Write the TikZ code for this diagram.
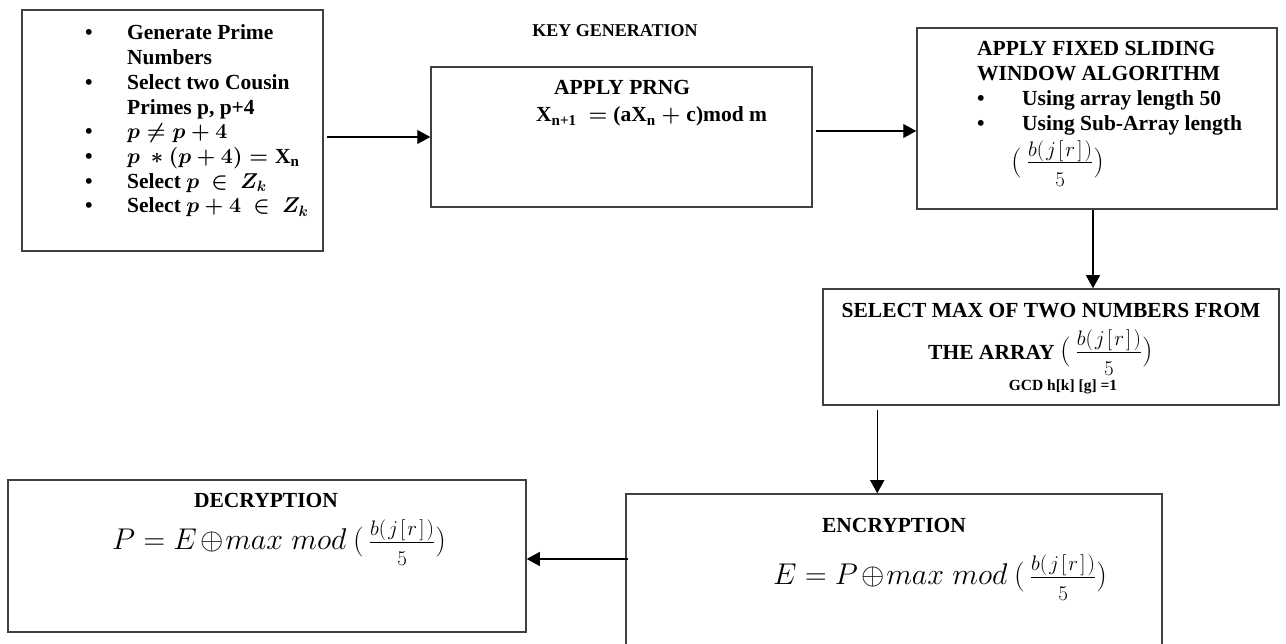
\RequirePackage{fix-cm}
\documentclass[tikz,border=0pt]{standalone}
\usepackage{amsmath}
\usepackage{fontspec}
\setmainfont{Liberation Serif}
\usetikzlibrary{arrows.meta}
\newcommand\fracpart{(\mkern3mu\frac{b(\mkern1.8mu j\mkern1.8mu[\mkern1.8mu r\mkern1.8mu]\mkern1.8mu)}{\rule{0pt}{22pt}5})}
\newcommand\myfr{{\fontsize{30}{34}\selectfont$\fracpart$}}
\newcommand\prngformula{\mbox{X$_{\text{n+1}}\;\boldsymbol{=}\;$(aX$_{\text{n}}\;\boldsymbol{+}\;$c)mod m}}
\begin{document}
\begin{tikzpicture}[x=1pt,y=1pt,
  box/.style={draw=black!75, line width=1.5pt, inner sep=0pt},
  txt/.style={inner sep=0pt, font=\fontsize{21.5}{24.7}\selectfont\bfseries},
  frm/.style={inner sep=0pt, font=\fontsize{30}{34}\selectfont},
  arr/.style={draw=black, line width=1.2pt, -{Triangle[length=13pt,width=14pt]}}]
\useasboundingbox (0,0) rectangle (1286,644);
\clip (0,0) rectangle (1286,644);
\fill[white] (0,0) rectangle (1286,644);
% boxes
\node[box, minimum width=301, minimum height=241] (b1) at (172.5,513.5) {};
\node[box, minimum width=381, minimum height=140] (b2) at (621.5,507) {};
\node[box, minimum width=360, minimum height=181] (b3) at (1097,525.5) {};
\node[box, minimum width=456, minimum height=116] (b4) at (1051,297) {};
\node[box, minimum width=518, minimum height=152] (b5) at (267,88) {};
\node[box, minimum width=536, minimum height=170] (b6) at (894,65) {};
% title
\node[inner sep=0pt, font=\fontsize{18}{20}\selectfont\bfseries, anchor=base] (title) at (615,607) {KEY GENERATION};
% box 1
\node[txt, anchor=base west] (t1) at (85,604) {\begin{tabular}[t]{@{}p{42pt}@{}l@{}}
\textbullet & Generate Prime\\
 & Numbers\\
\textbullet & Select two Cousin\\
 & Primes p, p+4\\
\textbullet & \boldmath$p \neq p+4$\\
\textbullet & \boldmath$p\ \ast (p+4) = \text{X}_{\text{n}}$\\
\textbullet & Select \boldmath$p\ \in\ Z_k$\\
\textbullet & Select \boldmath$p+4\ \in\ Z_k$
\end{tabular}};
% box 2
\node[txt, anchor=base west] (t2a) at (554,549) {APPLY PRNG};
\node[txt, anchor=base west] (t2b) at (536,522) {\prngformula};
% box 3
\node[txt, anchor=base west] (t3) at (977,588) {\begin{tabular}[t]{@{}p{45pt}@{}l@{}}
\multicolumn{2}{@{}l@{}}{APPLY FIXED SLIDING}\\
\multicolumn{2}{@{}l@{}}{WINDOW ALGORITHM}\\
\textbullet & Using array length 50\\
\textbullet & Using Sub-Array length
\end{tabular}};
\node[txt, anchor=base west] (t3f) at (1011,473.5) {\myfr};
% box 4
\node[txt, anchor=base] (t4a) at (1051,326) {SELECT MAX OF TWO NUMBERS FROM};
\node[txt, anchor=base west] (t4b) at (928,284) {THE ARRAY \myfr};
\node[inner sep=0pt, font=\fontsize{15.5}{18}\selectfont\bfseries, anchor=base] (t4c) at (1063,253) {GCD h[k] [g] =1};
% box 5
\node[txt, anchor=base] (t5a) at (266,136) {DECRYPTION};
\node[frm, anchor=base west] (t5b) at (112,94) {$P = E\mkern2mu\mathord{\oplus}\mkern1mu max\mkern5mu mod\mkern4mu\fracpart$};
% box 6
\node[txt, anchor=base] (t6a) at (894,111) {ENCRYPTION};
\node[frm, anchor=base west] (t6b) at (773,59) {$E = P\mkern2mu\mathord{\oplus}\mkern1mu max\mkern5mu mod\mkern4mu\fracpart$};
% arrows
\draw[arr, shorten <=3pt] (b1.east |- b2.west) -- (b2.west);
\draw[arr, shorten <=3pt] ([yshift=6pt]b2.east) -- ([yshift=6pt]b2.east -| b3.west);
\draw[arr] ([xshift=-4pt]b3.south) -- ([xshift=-4pt]b3.south |- b4.north);
\draw[arr, shorten <=4pt] ([xshift=55pt]b4.south west) -- ([xshift=55pt]b4.south west |- b6.north);
\draw[arr, shorten <=-3pt] ([yshift=-3pt]b5.east -| b6.west) -- ([yshift=-3pt]b5.east);
\end{tikzpicture}
\end{document}
